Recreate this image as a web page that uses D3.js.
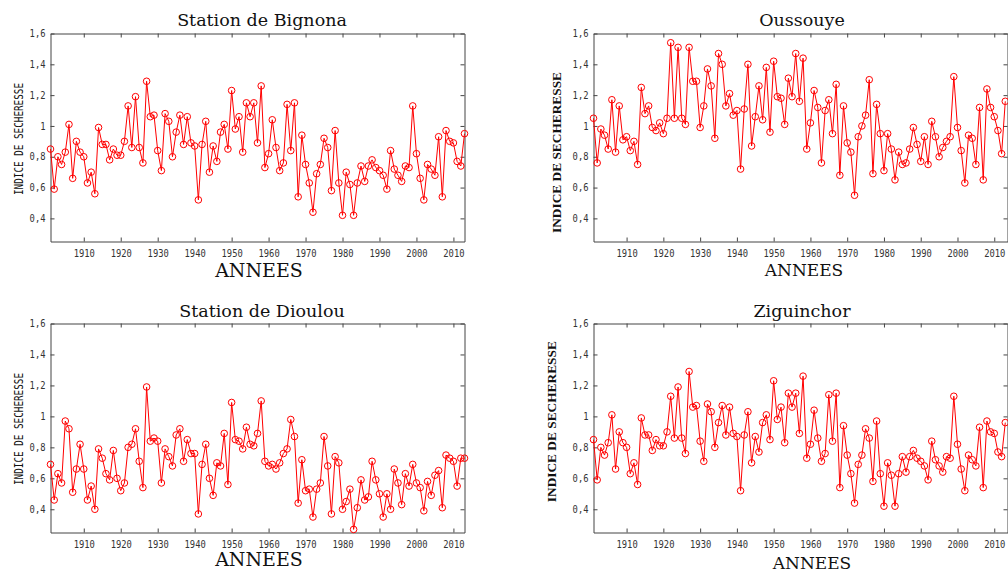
<!DOCTYPE html>
<html>
<head>
<meta charset="utf-8">
<script src="https://cdn.jsdelivr.net/npm/d3@7"></script>
<style>
  html, body { margin: 0; padding: 0; background: #fff; }
  svg { display: block; }
</style>
</head>
<body>
<svg id="chart" width="1008" height="572"></svg>
<script>
// ---------------- DATA ----------------
const firstYear = 1901;
const lastYear = 2013;
const years = d3.range(firstYear, lastYear + 1);

const bignona = [
  0.85,0.59,0.80,0.75,0.83,1.01,0.66,0.90,0.83,0.80,
  0.63,0.70,0.56,0.99,0.88,0.88,0.78,0.85,0.81,0.81,
  0.90,1.13,0.86,1.19,0.86,0.76,1.29,1.06,1.07,0.84,
  0.71,1.08,1.03,0.80,0.96,1.07,0.88,1.06,0.89,0.87,
  0.52,0.88,1.03,0.70,0.87,0.77,0.96,1.01,0.85,1.23,
  0.98,1.06,0.83,1.15,1.06,1.15,0.89,1.26,0.73,0.82,
  1.04,0.86,0.71,0.76,1.14,0.84,1.15,0.54,0.94,0.75,
  0.63,0.44,0.69,0.75,0.92,0.86,0.58,0.97,0.63,0.42,
  0.70,0.62,0.42,0.63,0.74,0.64,0.74,0.78,0.73,0.71,
  0.68,0.59,0.84,0.72,0.68,0.64,0.74,0.73,1.13,0.82,
  0.66,0.52,0.75,0.72,0.68,0.93,0.54,0.97,0.90,0.89,
  0.77,0.74,0.95
];

const oussouye = [
  1.05,0.76,0.98,0.94,0.85,1.17,0.83,1.13,0.91,0.93,
  0.84,0.90,0.75,1.25,1.08,1.13,0.99,0.97,1.02,0.95,
  1.05,1.54,1.05,1.51,1.05,1.01,1.51,1.29,1.29,0.99,
  1.13,1.37,1.26,0.92,1.47,1.40,1.13,1.21,1.07,1.10,
  0.72,1.11,1.40,0.87,1.06,1.26,1.04,1.38,0.96,1.42,
  1.19,1.18,1.01,1.31,1.19,1.47,1.16,1.44,0.85,1.02,
  1.23,1.12,0.76,1.10,1.17,0.95,1.27,0.68,1.13,0.89,
  0.83,0.55,0.93,1.00,1.07,1.30,0.69,1.14,0.95,0.71,
  0.95,0.85,0.65,0.83,0.75,0.76,0.85,0.99,0.88,0.77,
  0.93,0.75,1.03,0.93,0.80,0.86,0.90,0.93,1.32,0.99,
  0.84,0.63,0.94,0.92,0.75,1.12,0.65,1.24,1.12,1.06,
  0.97,0.82,1.16
];

const dioulou = [
  0.69,0.46,0.63,0.57,0.97,0.92,0.51,0.66,0.82,0.66,
  0.46,0.55,0.40,0.79,0.73,0.63,0.59,0.78,0.60,0.52,
  0.57,0.80,0.82,0.92,0.71,0.54,1.19,0.84,0.86,0.84,
  0.57,0.79,0.74,0.68,0.88,0.92,0.71,0.85,0.76,0.76,
  0.37,0.69,0.82,0.60,0.49,0.70,0.68,0.89,0.56,1.09,
  0.85,0.84,0.79,0.93,0.82,0.81,0.89,1.10,0.71,0.68,
  0.69,0.66,0.70,0.76,0.79,0.98,0.87,0.44,0.72,0.52,
  0.53,0.35,0.53,0.57,0.87,0.68,0.37,0.74,0.70,0.40,
  0.45,0.53,0.27,0.41,0.59,0.46,0.48,0.71,0.59,0.50,
  0.35,0.50,0.40,0.66,0.57,0.43,0.63,0.55,0.69,0.57,
  0.54,0.39,0.58,0.49,0.62,0.65,0.41,0.75,0.73,0.71,
  0.55,0.73,0.73
];

const ziguinchor = [
  0.85,0.59,0.80,0.75,0.83,1.01,0.66,0.90,0.83,0.80,
  0.63,0.70,0.56,0.99,0.88,0.88,0.78,0.85,0.81,0.81,
  0.90,1.13,0.86,1.19,0.86,0.76,1.29,1.06,1.07,0.84,
  0.71,1.08,1.03,0.80,0.96,1.07,0.88,1.06,0.89,0.87,
  0.52,0.88,1.03,0.70,0.87,0.77,0.96,1.01,0.85,1.23,
  0.98,1.06,0.83,1.15,1.06,1.15,0.89,1.26,0.73,0.82,
  1.04,0.86,0.71,0.76,1.14,0.84,1.15,0.54,0.94,0.75,
  0.63,0.44,0.69,0.75,0.92,0.86,0.58,0.97,0.63,0.42,
  0.70,0.62,0.42,0.63,0.74,0.64,0.74,0.78,0.73,0.71,
  0.68,0.59,0.84,0.72,0.68,0.64,0.74,0.73,1.13,0.82,
  0.66,0.52,0.75,0.72,0.68,0.93,0.54,0.97,0.90,0.89,
  0.77,0.74,0.96
];

const xTicks = [1910, 1920, 1930, 1940, 1950, 1960, 1970, 1980, 1990, 2000, 2010];
const yTicks = [0.4, 0.6, 0.8, 1.0, 1.2, 1.4, 1.6];
const yTickLabels = ["0,4", "0,6", "0,8", "1", "1,2", "1,4", "1,6"];
const yDomain = [0.25, 1.6];

const titles = ["Station de Bignona", "Oussouye", "Station de Dioulou", "Ziguinchor"];
const xLabel = "ANNEES";
const yLabel = "INDICE DE SECHERESSE";

// ---------------- LAYOUT (positions / styles) ----------------
const panels = [
  { values: bignona,    title: titles[0], l: 50.5,  r: 464.5,  t: 33.5,  b: 241.5, xMax: 2013,
    tx: 262, ty: 26, ax: 259, ay: 277, ayLabel: { x: 22.5, y: 139, style: "mono" }, xlSize: 19 },
  { values: oussouye,   title: titles[1], l: 593.5, r: 1007.5, t: 33.5,  b: 241.5, xMax: 2013.6,
    tx: 802, ty: 26, ax: 804, ay: 276, ayLabel: { x: 560.5, y: 152.5, style: "bold" }, xlSize: 17 },
  { values: dioulou,    title: titles[2], l: 50.5,  r: 464.5,  t: 323.5, b: 532.5, xMax: 2013,
    tx: 262, ty: 317, ax: 259, ay: 566, ayLabel: { x: 22.5, y: 429, style: "mono" }, xlSize: 19 },
  { values: ziguinchor, title: titles[3], l: 593.5, r: 1007.5, t: 323.5, b: 532.5, xMax: 2013.6,
    tx: 802, ty: 317, ax: 812, ay: 569, ayLabel: { x: 556, y: 421.7, style: "bold" }, xlSize: 17 }
];

const axisColor = "#444";
const tickTextColor = "#333";
const lineColor = "#ff0000";
const tickLen = 4;
const charW = 5.3;

const svg = d3.select("#chart");

panels.forEach(p => {
  const x = d3.scaleLinear().domain([firstYear, p.xMax]).range([p.l, p.r]);
  const y = d3.scaleLinear().domain(yDomain).range([p.b, p.t]);
  const g = svg.append("g");

  // axes (ticks inside, box all around)
  const bottom = g.append("g").attr("transform", `translate(0,${p.b})`)
    .call(d3.axisBottom(x).tickValues(xTicks).tickSizeInner(-tickLen).tickSizeOuter(0)
      .tickPadding(8).tickFormat(d3.format("d")));
  const top = g.append("g").attr("transform", `translate(0,${p.t})`)
    .call(d3.axisTop(x).tickValues(xTicks).tickSizeInner(-tickLen).tickSizeOuter(0).tickFormat(""));
  const left = g.append("g").attr("transform", `translate(${p.l},0)`)
    .call(d3.axisLeft(y).tickValues(yTicks).tickSizeInner(-tickLen).tickSizeOuter(0)
      .tickPadding(5).tickFormat((d, i) => yTickLabels[i]));
  const right = g.append("g").attr("transform", `translate(${p.r},0)`)
    .call(d3.axisRight(y).tickValues(yTicks).tickSizeInner(-tickLen).tickSizeOuter(0).tickFormat(""));

  [bottom, top, left, right].forEach(a => {
    a.select(".domain").attr("stroke", axisColor).attr("stroke-width", 1);
    a.selectAll(".tick line").attr("stroke", axisColor).attr("stroke-width", 1);
    a.selectAll(".tick text")
      .attr("fill", tickTextColor)
      .attr("font-family", "'DejaVu Sans Mono', monospace")
      .attr("font-size", 10)
      .attr("textLength", function() { return this.textContent.length * charW; })
      .attr("lengthAdjust", "spacingAndGlyphs");
  });

  // line + markers
  const pts = years.map((yr, i) => [yr, p.values[i]]).filter(d => d[1] != null);
  g.append("path")
    .datum(pts)
    .attr("fill", "none")
    .attr("stroke", lineColor)
    .attr("stroke-width", 1)
    .attr("d", d3.line().x(d => x(d[0])).y(d => y(d[1])));
  g.selectAll("circle.m")
    .data(pts)
    .join("circle")
    .attr("class", "m")
    .attr("cx", d => x(d[0]))
    .attr("cy", d => y(d[1]))
    .attr("r", 3.3)
    .attr("fill", "none")
    .attr("stroke", lineColor)
    .attr("stroke-width", 1);

  // title
  g.append("text")
    .attr("x", p.tx).attr("y", p.ty)
    .attr("text-anchor", "middle")
    .attr("font-family", "'DejaVu Serif', serif")
    .attr("font-size", 17.5)
    .attr("fill", "#111")
    .text(p.title);

  // x label
  g.append("text")
    .attr("x", p.ax).attr("y", p.ay)
    .attr("text-anchor", "middle")
    .attr("font-family", "'DejaVu Serif', serif")
    .attr("font-size", p.xlSize)
    .attr("fill", "#111")
    .text(xLabel);

  // y label
  const yl = g.append("text")
    .attr("transform", `translate(${p.ayLabel.x},${p.ayLabel.y}) rotate(-90)`)
    .attr("text-anchor", "middle")
    .attr("fill", "#111")
    .text(yLabel);
  if (p.ayLabel.style === "mono") {
    yl.attr("font-family", "'DejaVu Sans Mono', monospace")
      .attr("font-size", 12)
      .attr("textLength", 112)
      .attr("lengthAdjust", "spacingAndGlyphs");
  } else {
    yl.attr("font-family", "'Liberation Serif', 'Times New Roman', serif")
      .attr("font-weight", "bold")
      .attr("font-size", 13.4)
      .attr("textLength", 161)
      .attr("lengthAdjust", "spacingAndGlyphs");
  }
});
</script>
</body>
</html>
